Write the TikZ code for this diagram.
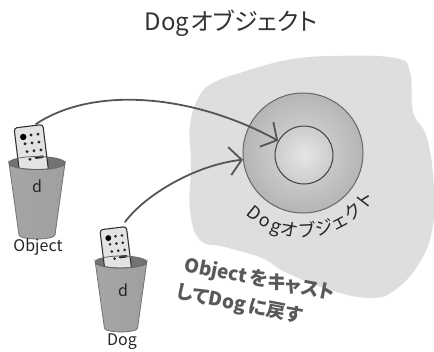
\documentclass[tikz,border=0pt]{standalone}
\usepackage{fontspec}
\setmainfont{Noto Sans CJK JP}[RawFeature=+palt]
\usepackage{tikz}
\usetikzlibrary{arrows.meta, positioning, calc}

\definecolor{blobgray}{RGB}{221,222,224}
\definecolor{inkgray}{RGB}{85,85,85}
\definecolor{titlegray}{RGB}{51,51,51}

\tikzset{
  link/.style={draw=inkgray, line width=1.8pt, line cap=round,
    -{Straight Barb[length=12pt,width=28pt,line width=1.8pt]}},
  cuplabel/.style={font=\fontsize{16}{18}\selectfont, text=black!85},
  ringchar/.style={anchor=base, inner sep=0pt, font=\fontsize{18}{18}\selectfont, text=black!85},
  castnote/.style={font=\bfseries\fontsize{19}{28}\selectfont, text=black!65,
    rotate=-11, align=left},
  pics/tumbler/.style={code={
    \fill[black!55] (0,0) ellipse (28 and 6.5);
    \begin{scope}[rotate around={7:(-5,-12)}]
      \filldraw[fill=gray!22, draw=black!80, line width=1.1pt, rounded corners=3pt]
        (-20,14) rectangle (9,-37);
      \fill[black] (-12,-27) circle (3.2);
      \foreach \bx/\by in {-4/-28, 3/-28, -11/-20, -4/-20, 3/-20, -10/-12, -3/-12, 4/-12, -8/-4}
        \fill[black!85] (\bx,\by) circle (1.6);
      \draw[black!85, line width=2.6pt, line cap=round] (-2,-5) -- (5,-5);
    \end{scope}
    \shade[left color=gray!70, middle color=gray!12, right color=gray!75,
      draw=black!55, line width=0.8pt]
      (-28,0) arc[start angle=180, end angle=0, x radius=28, y radius=6.5]
      -- (18,72) arc[start angle=0, end angle=180, x radius=18, y radius=4] -- cycle;
    \draw[black!60, line width=0.8pt] (0,0) ellipse (28 and 6.5);
  }}
}

\begin{document}
\begin{tikzpicture}[x=1pt, y=-1pt]
    \fill[white] (0,0) rectangle (434,351);
    \useasboundingbox (0,0) rectangle (434,351);

    \node[font=\fontsize{24}{28}\selectfont, text=titlegray] (title) at (231,23) {Dog\hspace{1.5pt}オブジェクト};

    % heap area
    \fill[blobgray] plot[smooth cycle, tension=0.7] coordinates {
      (190,125) (200,95) (215,82) (243,72) (287,60) (333,56) (395,58) (410,72)
      (413,112) (426,135) (433,175) (433,225) (420,262) (395,290) (370,298)
      (330,290) (285,272) (262,258) (225,247) (200,240) (190,210) (191,165)};

    \node[circle, minimum size=120pt, inner sep=0pt, draw=black!60, line width=1pt,
      inner color=gray!28, outer color=gray!58] (dogobj) at (303,153) {};
    \node[circle, minimum size=58pt, inner sep=0pt, draw=black!75, line width=1pt,
      inner color=gray!20, outer color=gray!40] (dogcore) at (304,155) {};

    % object label bent round the circle
    \begin{scope}[shift={(dogobj.center)}, y=1pt]
      \foreach \ch/\ang [count=\i] in {D/231, o/241, g/250, オ/260, ブ/273, ジ/286, ェ/298, ク/310, ト/323}
        \node[ringchar, rotate=\ang+90] (ring\i) at (\ang:84) {\ch};
    \end{scope}

    % reference variables in cups
    \pic (objcup) at (37,163) {tumbler};
    \pic[scale=0.92] (dogcup) at (121,262) {tumbler};
    \coordinate (objremote) at (36,124);
    \coordinate (dogremote) at (125,222);

    \node[cuplabel] (objd) at (37,186) {d};
    \node[cuplabel] (objname) at (38,247) {Object};
    \node[cuplabel] (dogd) at (123,290) {d};
    \node[cuplabel] (dogname) at (122,342) {Dog};

    \draw[link] (objremote) .. controls (95,85) and (195,95) .. (dogcore);
    \draw[link] (dogremote) .. controls (145,195) and (195,165) .. (dogobj);

    \node[castnote] (castnote) at (257,294) {Object\,をキャスト\\\hspace*{-3pt}してDog\,に戻す};
\end{tikzpicture}
\end{document}
